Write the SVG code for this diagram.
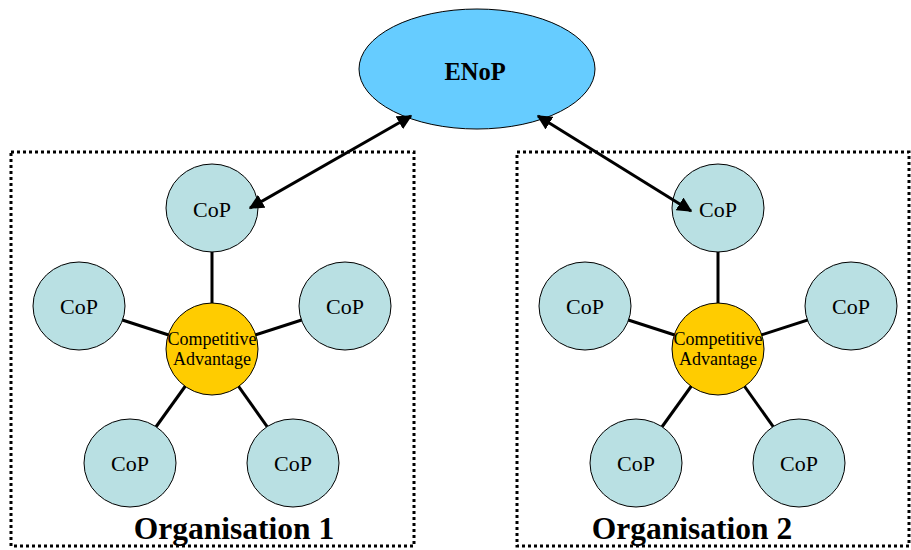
<svg xmlns="http://www.w3.org/2000/svg" width="911" height="550" viewBox="0 0 911 550">
<style>
.box{fill:none;stroke:#000;stroke-width:3;stroke-dasharray:3 3}
.cop{fill:#b9e0e3;stroke:#000;stroke-width:1}
.ca{fill:#ffcc00;stroke:#000;stroke-width:1}
.spoke{stroke:#000;stroke-width:3;fill:none}
.arr{stroke:#000;stroke-width:3;fill:none;marker-start:url(#ah);marker-end:url(#ah)}
text{font-family:"Liberation Serif","Times New Roman",serif;fill:#000;text-anchor:middle}
.t{font-size:22px}
.c{font-size:18px}
.org{font-size:31.5px;font-weight:bold}
</style>
<defs>
<marker id="ah" viewBox="0 0 10 10" refX="9" refY="5" markerWidth="5" markerHeight="5" orient="auto-start-reverse" markerUnits="strokeWidth">
<path d="M0,0 L10,5 L0,10 z" fill="#000"/>
</marker>
</defs>
<rect class="box" x="11" y="152" width="403" height="394"/>
<rect class="box" x="517" y="152" width="392" height="394"/>
<g id="connectors">
<line class="spoke" x1="212" y1="349" x2="212" y2="210"/>
<line class="spoke" x1="212" y1="349" x2="79" y2="306"/>
<line class="spoke" x1="212" y1="349" x2="345" y2="306"/>
<line class="spoke" x1="212" y1="349" x2="130" y2="463"/>
<line class="spoke" x1="212" y1="349" x2="293" y2="463"/>
<line class="spoke" x1="718" y1="349" x2="718" y2="210"/>
<line class="spoke" x1="718" y1="349" x2="585" y2="306"/>
<line class="spoke" x1="718" y1="349" x2="851" y2="306"/>
<line class="spoke" x1="718" y1="349" x2="636" y2="463"/>
<line class="spoke" x1="718" y1="349" x2="799" y2="463"/>
</g>
<g id="enop"><ellipse cx="477" cy="69" rx="118" ry="60" fill="#66ccff" stroke="#000" stroke-width="1"/><text x="475" y="80" style="font-size:24.5px;font-weight:bold">ENoP</text></g>
<g id="o1-top"><ellipse class="cop" cx="212" cy="208" rx="46" ry="44"/><text class="t" x="212" y="217">CoP</text></g>
<g id="o1-left"><ellipse class="cop" cx="79" cy="306" rx="46" ry="44"/><text class="t" x="79" y="314">CoP</text></g>
<g id="o1-right"><ellipse class="cop" cx="345" cy="306" rx="46" ry="44"/><text class="t" x="345" y="314">CoP</text></g>
<g id="o1-bl"><ellipse class="cop" cx="130" cy="463" rx="46" ry="44"/><text class="t" x="130" y="471">CoP</text></g>
<g id="o1-br"><ellipse class="cop" cx="293" cy="463" rx="46" ry="44"/><text class="t" x="293" y="471">CoP</text></g>
<g id="o1-ca"><circle class="ca" cx="212" cy="349" r="46"/><text class="c" x="212" y="345">Competitive</text><text class="c" x="212" y="365">Advantage</text></g>
<g id="o2-top"><ellipse class="cop" cx="718" cy="208" rx="46" ry="44"/><text class="t" x="718" y="217">CoP</text></g>
<g id="o2-left"><ellipse class="cop" cx="585" cy="306" rx="46" ry="44"/><text class="t" x="585" y="314">CoP</text></g>
<g id="o2-right"><ellipse class="cop" cx="851" cy="306" rx="46" ry="44"/><text class="t" x="851" y="314">CoP</text></g>
<g id="o2-bl"><ellipse class="cop" cx="636" cy="463" rx="46" ry="44"/><text class="t" x="636" y="471">CoP</text></g>
<g id="o2-br"><ellipse class="cop" cx="799" cy="463" rx="46" ry="44"/><text class="t" x="799" y="471">CoP</text></g>
<g id="o2-ca"><circle class="ca" cx="718" cy="349" r="46"/><text class="c" x="718" y="345">Competitive</text><text class="c" x="718" y="365">Advantage</text></g>
<g id="arrows">
<line class="arr" x1="250" y1="208" x2="411" y2="116"/>
<line class="arr" x1="691" y1="211" x2="538" y2="116"/>
</g>
<text class="org" x="234" y="539">Organisation 1</text>
<text class="org" x="692" y="539">Organisation 2</text>
</svg>
